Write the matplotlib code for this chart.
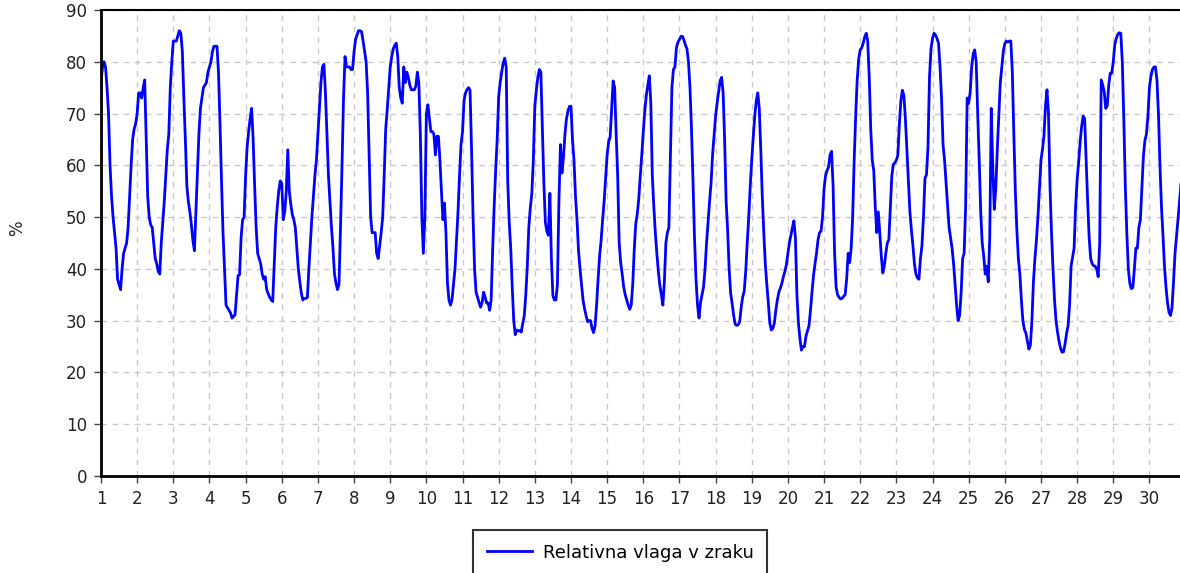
import matplotlib
matplotlib.use("Agg")
import matplotlib.pyplot as plt
import numpy as np

# hourly relative humidity, one row per day (00:00 .. 23:00)
vlaga = [
    76, 79, 80, 79, 75, 70, 60, 54, 50, 47, 44, 38, 37, 36, 40, 43, 44, 45, 48, 54, 60, 65, 67, 68,
    70, 74, 74, 73, 75, 76.5, 65, 54, 50, 48.5, 48, 45, 42, 41, 39.5, 39, 45, 49, 53, 58, 63, 66, 75, 80,
    84, 84, 84, 85, 86, 85.5, 82, 73, 65, 56, 53, 51, 48.5, 45.5, 43.5, 51, 58, 66, 71, 73, 75, 75.5, 76, 78,
    79, 80, 82, 83, 83, 83, 78, 68, 57, 47, 40, 33, 32.5, 32, 31.5, 30.5, 30.8, 31.2, 35, 38.7, 38.9, 46, 49.5, 50,
    58, 63.5, 66.5, 69, 71, 65, 56, 48, 43, 42, 41, 39, 38, 38.5, 36, 35.2, 34.5, 34, 33.7, 41, 48, 52, 55, 57,
    56.5, 49.5, 51, 55, 63, 55, 52.5, 50.5, 49.5, 48, 44, 40, 37.5, 35.3, 34, 34.3, 34.3, 34.5, 40, 45, 50, 54, 58, 61,
    66, 71, 76, 79, 79.5, 74, 66, 58, 53, 48, 44, 39, 37.2, 36, 37, 48, 60, 73, 81, 79, 79, 79, 78.5, 78.5,
    82, 84.3, 85.2, 86, 86, 85.8, 84, 82, 80, 74, 62, 50, 47, 47, 47, 43, 42, 44.5, 47, 50, 58, 67, 70.7, 75,
    79, 81, 82.5, 83.2, 83.6, 81, 75, 73, 72, 79, 76, 78, 77, 75.5, 74.6, 74.6, 74.6, 75.3, 78, 76, 66, 50, 43, 50,
    70, 71.7, 69, 66.5, 66.5, 66, 62, 65.6, 65.6, 61, 55, 49.5, 52.7, 47, 37.2, 34, 33, 34, 37, 40, 45.5, 51, 58, 64,
    66.5, 72.5, 74, 74.6, 75, 74.5, 63, 50, 40, 35.5, 34.5, 33.5, 32.6, 33.5, 35.5, 34.5, 33.4, 33.4, 32, 34, 43.7, 52, 59, 65,
    73.3, 76, 78, 79.8, 80.7, 79, 57, 49, 44, 36.5, 30, 27.3, 28.2, 28, 28.1, 27.8, 29.5, 31, 35, 40.5, 48, 51.8, 54.5, 61,
    71.4, 74.5, 77, 78.5, 78, 67, 56.6, 49, 47.2, 46.5, 54.6, 42, 34.8, 34, 34, 37, 53, 64, 58.5, 61.5, 66, 69, 70.5, 71.4,
    71.4, 65, 61, 54, 49.5, 43.5, 40, 37, 34, 32.3, 31, 29.8, 30, 30, 28.5, 27.7, 29, 33, 38, 42.5, 45.5, 49.5, 53, 57.5,
    62, 64.5, 65.5, 71, 76.3, 75, 66, 58, 45, 41.2, 39, 36.5, 35, 34, 33, 32.2, 33, 37, 43.7, 48.7, 50.6, 53.5, 58, 62,
    66.5, 70.5, 73.5, 75.5, 77.3, 72, 58, 52, 47, 43, 39.5, 36.8, 35, 33, 37.5, 45, 47, 48, 62, 75, 78.5, 79, 82.7, 83.8,
    84.3, 84.9, 84.9, 84.2, 83.2, 82.5, 80, 75, 67, 57, 46, 38, 33, 30.5, 33.5, 35, 36.5, 40, 45, 49, 53, 56.6, 62, 65.7,
    69.5, 72, 74.2, 76.3, 77, 74, 65, 53, 47.5, 40, 35.3, 33.3, 31, 29.3, 29.1, 29.2, 29.8, 32.6, 34.6, 35.7, 39.5, 45, 50, 56,
    61, 65.5, 69.5, 72.5, 74, 71, 63, 54, 47, 41, 37, 33.5, 29.5, 28.2, 28.5, 29.5, 32, 34, 35.5, 36.3, 37.2, 38.5, 39.5, 40.8,
    43, 45, 46.5, 48, 49.3, 46, 35, 29.5, 26.5, 24.3, 25, 25, 27, 28, 29, 32, 35.5, 38.7, 41, 43, 45.6, 47, 47.3, 50,
    55.5, 58, 59, 59.7, 62, 62.7, 56, 43, 36.5, 35, 34.5, 34.2, 34.3, 34.7, 35, 38, 43, 41.2, 44, 50, 61, 69.5, 76.5, 80.5,
    82.3, 82.7, 83.6, 84.8, 85.5, 84, 77, 67, 61, 59, 52, 47, 51, 47, 42.5, 39.2, 40.5, 43, 45, 45.6, 52, 58, 60.2, 60.5,
    61, 62, 68, 72.5, 74.5, 73.5, 69, 63, 57, 51, 47.5, 44.5, 41, 39, 38.3, 38, 42, 44.5, 50, 57.5, 58.2, 63.5, 77, 82.5,
    84.5, 85.5, 85.2, 84.5, 83.6, 79, 73, 64, 61, 56.6, 52.3, 48, 46, 44, 41, 37, 33, 30, 31, 35.3, 42, 43, 52, 73,
    72, 74, 79, 81.5, 82.3, 80, 70, 61, 51, 45, 42.5, 39, 40.5, 37.5, 46, 71, 59.8, 51.5, 55.5, 63, 69.5, 75.9, 79, 82,
    83.5, 84, 83.8, 84, 84, 78, 66, 55, 47.5, 42, 39, 34, 30, 28.3, 27.6, 26, 24.5, 25.3, 30, 37.5, 42, 45.6, 50, 55.5,
    61, 63, 65.8, 71.5, 74.6, 70, 56, 47, 40, 34, 30, 27.8, 26, 24.7, 23.9, 24, 25.5, 27.5, 29, 33, 40.5, 42.2, 44, 52,
    57.2, 60.5, 64.5, 67.5, 69.5, 69, 61, 53, 46, 42, 41, 40.6, 40.5, 40, 38.5, 45, 76.5, 75.5, 74.2, 71, 71.5, 75.5, 77.8, 77.8,
    80, 83.3, 84.5, 85.3, 85.6, 85.5, 80, 69, 56, 47, 40, 37.2, 36.2, 36.4, 40, 44, 44, 48, 49.5, 55.5, 61.7, 64.8, 66, 69.5,
    75, 77.2, 78.5, 79, 79, 76.5, 70, 60, 52, 46.5, 40.5, 36.5, 33.5, 31.6, 31, 32.5, 37.5, 43, 46.3, 49.5, 53, 56.5, 61, 64,
]
dnevi = list(range(1, 31))
y_ticks = list(range(0, 91, 10))
legenda = "Relativna vlaga v zraku"

cas = 1 + np.arange(len(vlaga)) / 24.0

plt.rcParams["font.family"] = ["DejaVu Sans"]

fig = plt.figure(figsize=(11.8, 5.73), dpi=100)
ax = fig.add_axes([101 / 1180, 1 - 476 / 573, 1 - 101 / 1180 + 0.002, (476 - 10) / 573])

ax.plot(cas, vlaga, color="#0000ff", linewidth=2.0, label=legenda)

ax.set_xlim(1, 1 + (1180 - 101.7) / 36.05)
ax.set_ylim(0, 90)
ax.set_xticks(dnevi)
ax.set_yticks(y_ticks)
ax.tick_params(labelsize=12, length=5, width=1, direction="out",
               color="#444444", labelcolor="#222222", pad=5)

ax.grid(True, color="#c8c8c8", linestyle=(0, (4, 4)), linewidth=1)
ax.set_axisbelow(True)

for side in ("left", "bottom"):
    ax.spines[side].set_linewidth(2)
ax.spines["top"].set_linewidth(1.5)
ax.spines["right"].set_visible(False)

fig.text(17 / 1180, 1 - 228 / 573, "%", rotation=90, ha="center", va="center",
         fontsize=12, color="#222222")

# legend box sits under the axes and runs off the bottom edge
leg = fig.legend(loc="upper center", bbox_to_anchor=(620 / 1180, 1 - 530 / 573),
                 fontsize=13, frameon=True, fancybox=False, handlelength=2.5,
                 handletextpad=0.6, borderpad=0.75, borderaxespad=0)
leg.get_frame().set_edgecolor("black")
leg.get_frame().set_linewidth(1.5)

fig.savefig("out.png", dpi=100)
